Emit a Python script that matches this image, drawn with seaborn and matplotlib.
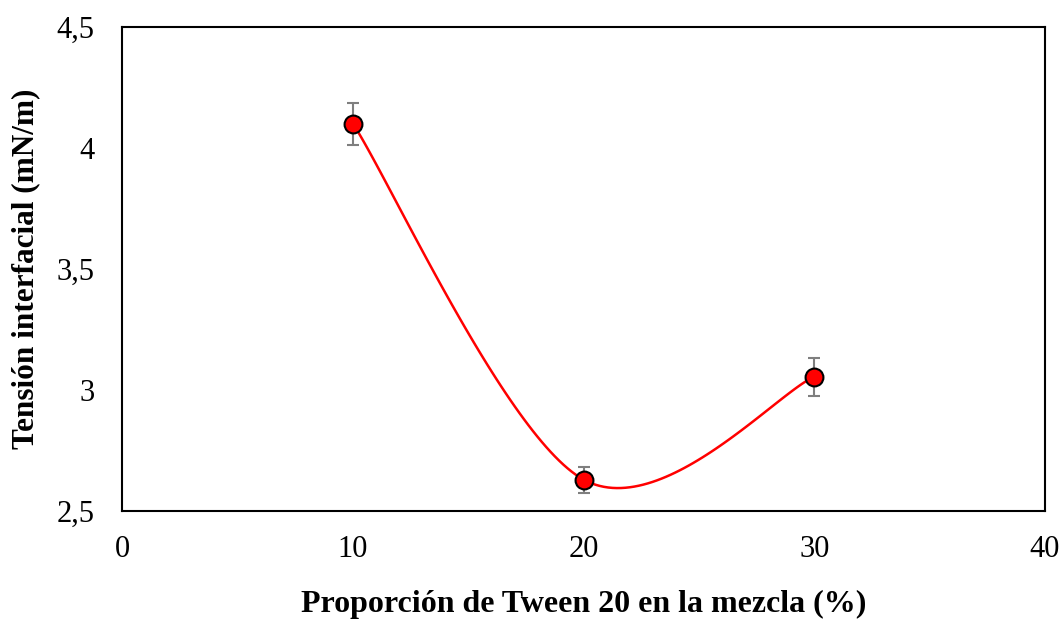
import seaborn as sns
import matplotlib.pyplot as plt
import matplotlib.ticker as mticker
import pandas as pd
import numpy as np

# datos
tween = [10, 20, 30]
tension = [4.10, 2.63, 3.055]
error = [0.087, 0.054, 0.078]

sns.set_style("white")
plt.rcParams['font.family'] = ['Liberation Serif', 'DejaVu Serif']
plt.rcParams['text.color'] = 'black'
plt.rcParams['axes.labelcolor'] = 'black'

df = pd.DataFrame({'x': tween, 'y': tension, 'err': error})

# linea suavizada tipo Excel (bezier con puntos de control a 1/6)
px = np.array(tween, dtype=float)
py = np.array(tension, dtype=float)
n = len(px)
cx, cy = [], []
t = np.linspace(0, 1, 60)
for i in range(n - 1):
    p0 = (px[max(i - 1, 0)], py[max(i - 1, 0)])
    p1 = (px[i], py[i])
    p2 = (px[i + 1], py[i + 1])
    p3 = (px[min(i + 2, n - 1)], py[min(i + 2, n - 1)])
    b1 = (p1[0] + (p2[0] - p0[0]) / 6, p1[1] + (p2[1] - p0[1]) / 6)
    b2 = (p2[0] - (p3[0] - p1[0]) / 6, p2[1] - (p3[1] - p1[1]) / 6)
    for k in range(2):
        c = ((1 - t) ** 3 * p1[k] + 3 * (1 - t) ** 2 * t * b1[k]
             + 3 * (1 - t) * t ** 2 * b2[k] + t ** 3 * p2[k])
        (cx if k == 0 else cy).append(c)
cx = np.concatenate(cx)
cy = np.concatenate(cy)

fig, ax = plt.subplots(figsize=(10.63, 6.21), dpi=100)
fig.subplots_adjust(left=0.115, right=0.983, top=0.957, bottom=0.177)

ax.plot(cx, cy, color='#ff0000', lw=1.8, zorder=2)
ax.errorbar(df['x'], df['y'], yerr=df['err'], fmt='none', ecolor='#7f7f7f',
            elinewidth=1.5, capsize=4.5, capthick=1.5, zorder=1)
sns.scatterplot(data=df, x='x', y='y', ax=ax, color='#ff0000', edgecolor='black',
                linewidth=1.5, s=165, zorder=3)

ax.set_xlim(0, 40)
ax.set_ylim(2.5, 4.5)
ax.set_xticks([0, 10, 20, 30, 40])
ax.set_yticks([2.5, 3, 3.5, 4, 4.5])
fmt = mticker.FuncFormatter(lambda v, p: ('%g' % v).replace('.', ','))
ax.yaxis.set_major_formatter(fmt)
ax.xaxis.set_major_formatter(fmt)
ax.tick_params(direction='in', length=7, width=1.3, labelsize=22, colors='black')
ax.tick_params(axis='x', pad=17)
ax.tick_params(axis='y', pad=20)
for s in ax.spines.values():
    s.set_color('black')
    s.set_linewidth(1.5)

ax.set_xlabel('Proporción de Tween 20 en la mezcla (%)', fontsize=23, fontweight='bold', labelpad=19)
ax.set_ylabel('Tensión interfacial (mN/m)', fontsize=22.5, fontweight='bold', labelpad=12)

plt.savefig('out.png', dpi=100)
